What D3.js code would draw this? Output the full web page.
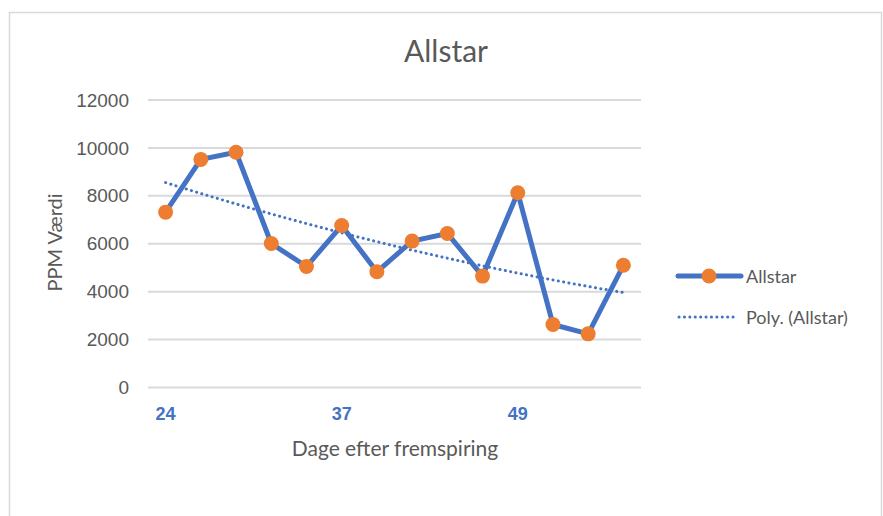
<!DOCTYPE html>
<html>
<head>
<meta charset="utf-8">
<script src="https://cdn.jsdelivr.net/npm/d3@7"></script>
<style>
  html, body { margin: 0; padding: 0; background: #fff; }
  svg { display: block; font-family: "Lato", "Open Sans", sans-serif; }
</style>
</head>
<body>
<svg id="chart" width="883" height="516"></svg>
<script>
// Sampling days (only some are labelled on the axis)
const days = ["24", "", "", "", "", "37", "", "", "", "", "49", "", "", ""];
// PPM readings for Allstar
const ppm = [7320, 9520, 9820, 6010, 5050, 6760, 4830, 6110, 6430, 4650, 8130, 2630, 2240, 5100];
const yTicks = [0, 2000, 4000, 6000, 8000, 10000, 12000];

const seriesName = "Allstar";
const trendName = "Poly. (Allstar)";
const blue = "#4472C4";
const orange = "#ED7D31";
const textGray = "#595959";

const svg = d3.select("#chart");

// chart frame
svg.append("rect")
  .attr("x", 9.5).attr("y", 12.5)
  .attr("width", 872).attr("height", 510)
  .attr("fill", "#fff").attr("stroke", "#d9d9d9").attr("stroke-width", 1.5);

const plot = { left: 148, right: 641, top: 100, bottom: 387.5 };

const x = d3.scaleBand()
  .domain(d3.range(days.length))
  .range([plot.left, plot.right]);
const cx = i => x(i) + x.bandwidth() / 2;

const y = d3.scaleLinear()
  .domain([0, 12000])
  .range([plot.bottom, plot.top]);

// horizontal gridlines
svg.append("g")
  .selectAll("line")
  .data(yTicks)
  .join("line")
  .attr("x1", plot.left).attr("x2", plot.right)
  .attr("y1", d => y(d)).attr("y2", d => y(d))
  .attr("stroke", "#d9d9d9").attr("stroke-width", 2);

// y axis labels
const yAxis = d3.axisLeft(y).tickValues(yTicks).tickSize(0).tickPadding(0).tickFormat(d3.format("d"));
const yg = svg.append("g")
  .attr("transform", `translate(${plot.left - 19},0)`)
  .call(yAxis);
yg.select(".domain").remove();
yg.selectAll("text")
  .attr("fill", textGray)
  .style("font-size", "19px");

// x axis labels
const xAxis = d3.axisBottom(x).tickSize(0).tickPadding(0).tickFormat(i => days[i]);
const xg = svg.append("g")
  .attr("transform", `translate(0,${plot.bottom + 20})`)
  .call(xAxis);
xg.select(".domain").remove();
xg.selectAll("text")
  .attr("fill", blue)
  .style("font-size", "18px")
  .style("font-weight", "bold");

// second-order polynomial least-squares trend over the point indices
function polyFit(vals) {
  const S = [0, 0, 0, 0, 0], T = [0, 0, 0];
  vals.forEach((v, i) => {
    for (let k = 0; k < 5; k++) S[k] += Math.pow(i, k);
    for (let k = 0; k < 3; k++) T[k] += v * Math.pow(i, k);
  });
  const A = [[S[0], S[1], S[2], T[0]], [S[1], S[2], S[3], T[1]], [S[2], S[3], S[4], T[2]]];
  for (let c = 0; c < 3; c++) {
    for (let r = c + 1; r < 3; r++) {
      const f = A[r][c] / A[c][c];
      for (let k = c; k < 4; k++) A[r][k] -= f * A[c][k];
    }
  }
  const b = [0, 0, 0];
  for (let r = 2; r >= 0; r--) {
    let s = A[r][3];
    for (let k = r + 1; k < 3; k++) s -= A[r][k] * b[k];
    b[r] = s / A[r][r];
  }
  return t => b[0] + b[1] * t + b[2] * t * t;
}
const trend = polyFit(ppm);
const trendPts = d3.range(0, ppm.length - 1 + 1e-9, 0.1);

svg.append("path")
  .datum(trendPts)
  .attr("fill", "none")
  .attr("stroke", blue)
  .attr("stroke-width", 3)
  .attr("stroke-linecap", "round")
  .attr("stroke-dasharray", "0.1 5.3")
  .attr("d", d3.line()
    .x(t => x(0) + x.bandwidth() / 2 + t * x.step())
    .y(t => y(trend(t))));

// data line
svg.append("path")
  .datum(ppm)
  .attr("fill", "none")
  .attr("stroke", blue)
  .attr("stroke-width", 5)
  .attr("stroke-linejoin", "round")
  .attr("d", d3.line().x((d, i) => cx(i)).y(d => y(d)));

// markers
svg.append("g")
  .selectAll("circle")
  .data(ppm)
  .join("circle")
  .attr("cx", (d, i) => cx(i))
  .attr("cy", d => y(d))
  .attr("r", 7.5)
  .attr("fill", orange);

// title
svg.append("text")
  .attr("x", 446).attr("y", 62)
  .attr("text-anchor", "middle")
  .attr("fill", textGray)
  .style("font-size", "30px")
  .text(seriesName);

// axis titles
svg.append("text")
  .attr("x", 395).attr("y", 456)
  .attr("text-anchor", "middle")
  .attr("fill", textGray)
  .style("font-size", "21px")
  .text("Dage efter fremspiring");

svg.append("text")
  .attr("transform", `translate(62,242.5) rotate(-90)`)
  .attr("text-anchor", "middle")
  .attr("fill", textGray)
  .style("font-size", "20px")
  .text("PPM Værdi");

// legend
const lg = svg.append("g");
lg.append("line")
  .attr("x1", 678).attr("x2", 741).attr("y1", 276).attr("y2", 276)
  .attr("stroke", blue).attr("stroke-width", 5).attr("stroke-linecap", "round");
lg.append("circle").attr("cx", 709).attr("cy", 276).attr("r", 7.5).attr("fill", orange);
lg.append("text").attr("x", 746).attr("y", 282.5)
  .attr("fill", textGray).style("font-size", "18px").text(seriesName);
lg.append("line")
  .attr("x1", 679).attr("x2", 736).attr("y1", 317).attr("y2", 317)
  .attr("stroke", blue).attr("stroke-width", 3).attr("stroke-linecap", "round")
  .attr("stroke-dasharray", "0.1 5.3");
lg.append("text").attr("x", 746).attr("y", 323.5)
  .attr("fill", textGray).style("font-size", "18px").text(trendName);
</script>
</body>
</html>
